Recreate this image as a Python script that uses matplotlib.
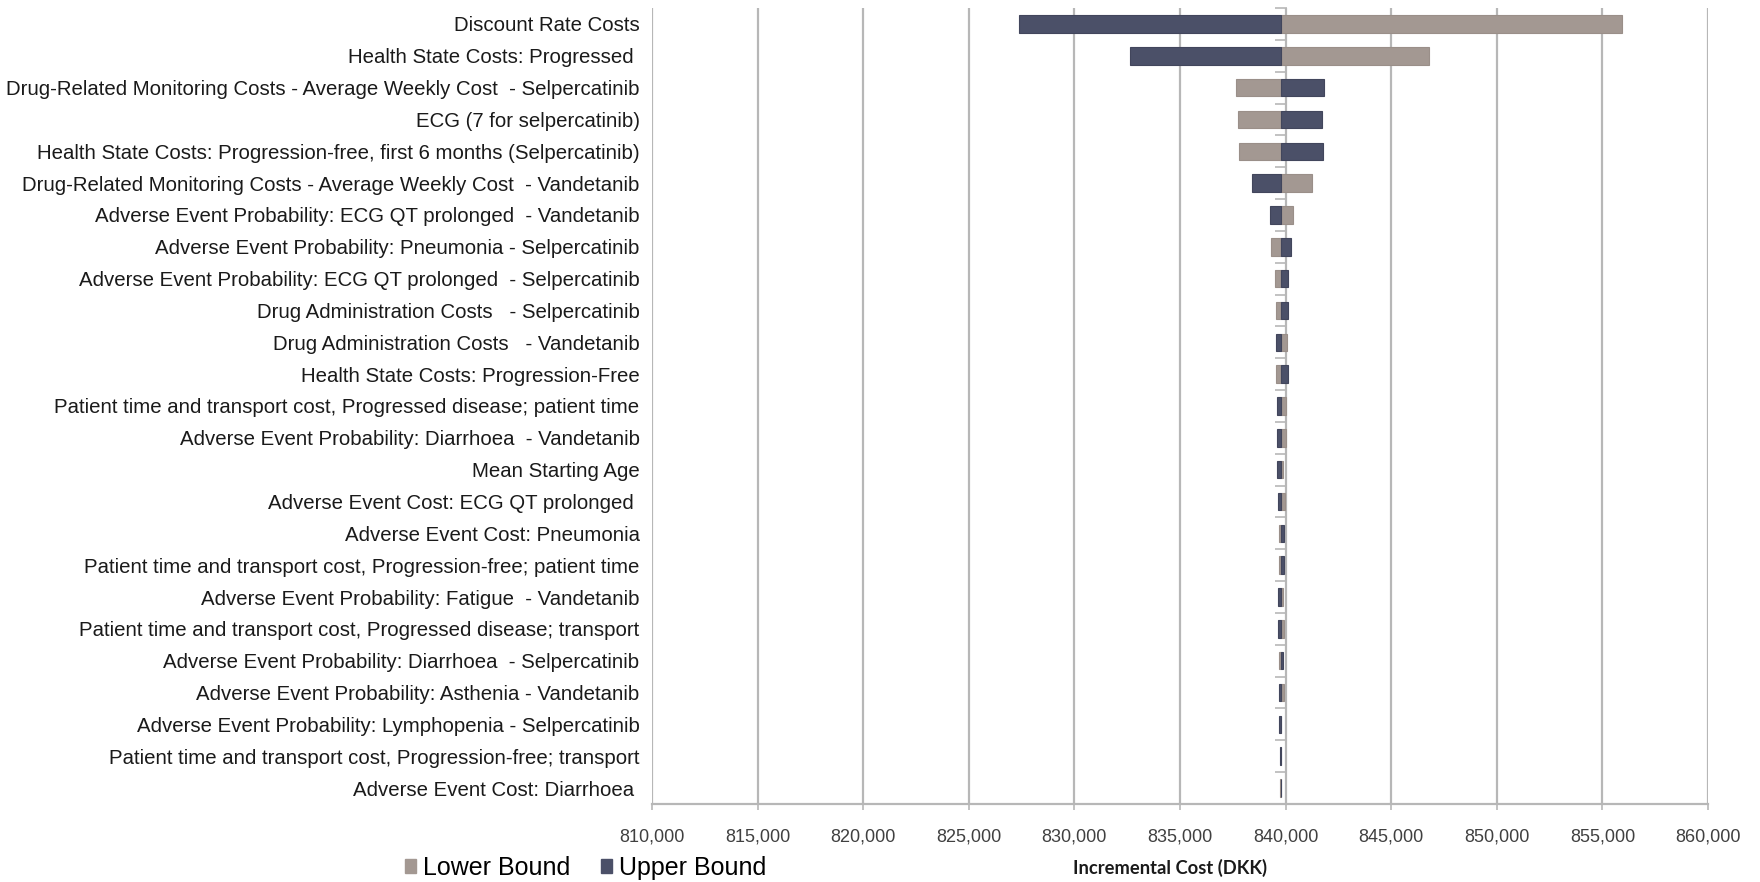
import matplotlib
matplotlib.use("Agg")
import matplotlib.pyplot as plt
from matplotlib.patches import Patch
from matplotlib.ticker import FuncFormatter
import numpy as np

# One-way sensitivity analysis: incremental cost at the low / high input bound
parameters = [
    "Discount Rate Costs",
    "Health State Costs: Progressed ",
    "Drug-Related Monitoring Costs - Average Weekly Cost  - Selpercatinib",
    "ECG (7 for selpercatinib)",
    "Health State Costs: Progression-free, first 6 months (Selpercatinib)",
    "Drug-Related Monitoring Costs - Average Weekly Cost  - Vandetanib",
    "Adverse Event Probability: ECG QT prolonged  - Vandetanib",
    "Adverse Event Probability: Pneumonia - Selpercatinib",
    "Adverse Event Probability: ECG QT prolonged  - Selpercatinib",
    "Drug Administration Costs   - Selpercatinib",
    "Drug Administration Costs   - Vandetanib",
    "Health State Costs: Progression-Free",
    "Patient time and transport cost, Progressed disease; patient time",
    "Adverse Event Probability: Diarrhoea  - Vandetanib",
    "Mean Starting Age",
    "Adverse Event Cost: ECG QT prolonged ",
    "Adverse Event Cost: Pneumonia",
    "Patient time and transport cost, Progression-free; patient time",
    "Adverse Event Probability: Fatigue  - Vandetanib",
    "Patient time and transport cost, Progressed disease; transport",
    "Adverse Event Probability: Diarrhoea  - Selpercatinib",
    "Adverse Event Probability: Asthenia - Vandetanib",
    "Adverse Event Probability: Lymphopenia - Selpercatinib",
    "Patient time and transport cost, Progression-free; transport",
    "Adverse Event Cost: Diarrhoea ",
]

lower_bound = [
    855950, 846800, 837640, 837740, 837800, 841250, 840330, 839320,
    839510, 839525, 840080, 839525, 840015, 840000, 839890, 839950,
    839680, 839680, 839890, 839920, 839680, 839920, 839790, 839800,
    839730,
]

upper_bound = [
    827400, 832620, 841810, 841700, 841770, 838390, 839260, 840240,
    840095, 840100, 839525, 840100, 839570, 839600, 839580, 839640,
    839920, 839920, 839640, 839640, 839890, 839680, 839710, 839720,
    839790,
]

base_case = 839762
x_ticks = list(range(810000, 860001, 5000))

TAN = "#a39892"
DARK = "#4b5068"
GRID = "#b7b7b7"
LABEL_FONT = ["Liberation Sans", "DejaVu Sans"]

fig = plt.figure(figsize=(17.6, 8.82), dpi=100)
ax = fig.add_axes([652 / 1760, 1 - 804 / 882, (1708 - 652) / 1760, (804 - 8) / 882])

y = np.arange(len(parameters))
lower = np.array(lower_bound) - base_case
upper = np.array(upper_bound) - base_case

ax.barh(y, lower, left=base_case, height=0.55, color=TAN,
        edgecolor="#9a8f89", linewidth=0.8, zorder=3)
ax.barh(y, upper, left=base_case, height=0.55, color=DARK,
        edgecolor="#42465c", linewidth=0.8, zorder=3)

ax.set_xlim(x_ticks[0], x_ticks[-1])
ax.set_ylim(len(parameters) - 0.5, -0.5)

ax.set_xticks(x_ticks)
ax.xaxis.set_major_formatter(FuncFormatter(lambda v, _: f"{v:,.0f}"))
for lbl in ax.get_xticklabels():
    lbl.set_family(LABEL_FONT)
    lbl.set_fontsize(13)
    lbl.set_color("#404040")
ax.tick_params(axis="x", direction="out", length=4, width=1.2, color=GRID, pad=14)

ax.set_yticks(y)
ax.set_yticklabels(parameters, family=LABEL_FONT, fontsize=14.7, color="#1a1a1a")
ax.tick_params(axis="y", length=0, pad=9)

ax.set_axisbelow(True)
ax.xaxis.grid(True, color=GRID, linewidth=1.6)
ax.yaxis.grid(False)
for side in ("top", "right", "left"):
    ax.spines[side].set_visible(False)
ax.spines["bottom"].set_color(GRID)
ax.spines["bottom"].set_linewidth(1.6)

# Vertical axis crossing at the base-case value, with category tick marks
cross = (base_case - x_ticks[0]) / (x_ticks[-1] - x_ticks[0])
sec = ax.secondary_yaxis(cross)
sec.set_yticks(np.arange(-0.5, len(parameters), 1.0))
sec.tick_params(direction="inout", length=8, width=1.2, color=GRID,
                labelleft=False, labelright=False)
sec.spines["left"].set_color(GRID)
sec.spines["left"].set_linewidth(1.6)
sec.spines["right"].set_visible(False)

ax.set_xlabel("Incremental Cost (DKK)", family=["Lato", "DejaVu Sans"],
              fontweight="bold", fontsize=13.2, color="#1a1a1a")
ax.xaxis.set_label_coords(0.491, -(868 - 804) / 796)
ax.xaxis.label.set_va("center")

handles = [Patch(facecolor=TAN, edgecolor=TAN), Patch(facecolor=DARK, edgecolor=DARK)]
fig.legend(handles, ["Lower Bound", "Upper Bound"], loc="center left",
           bbox_to_anchor=(405 / 1760, 1 - 868 / 882), ncol=2, frameon=False,
           prop={"family": LABEL_FONT, "size": 18},
           handlelength=0.45, handleheight=0.45, handletextpad=0.28,
           columnspacing=1.2, borderpad=0, borderaxespad=0)

fig.savefig("out.png", dpi=100, facecolor="white")
